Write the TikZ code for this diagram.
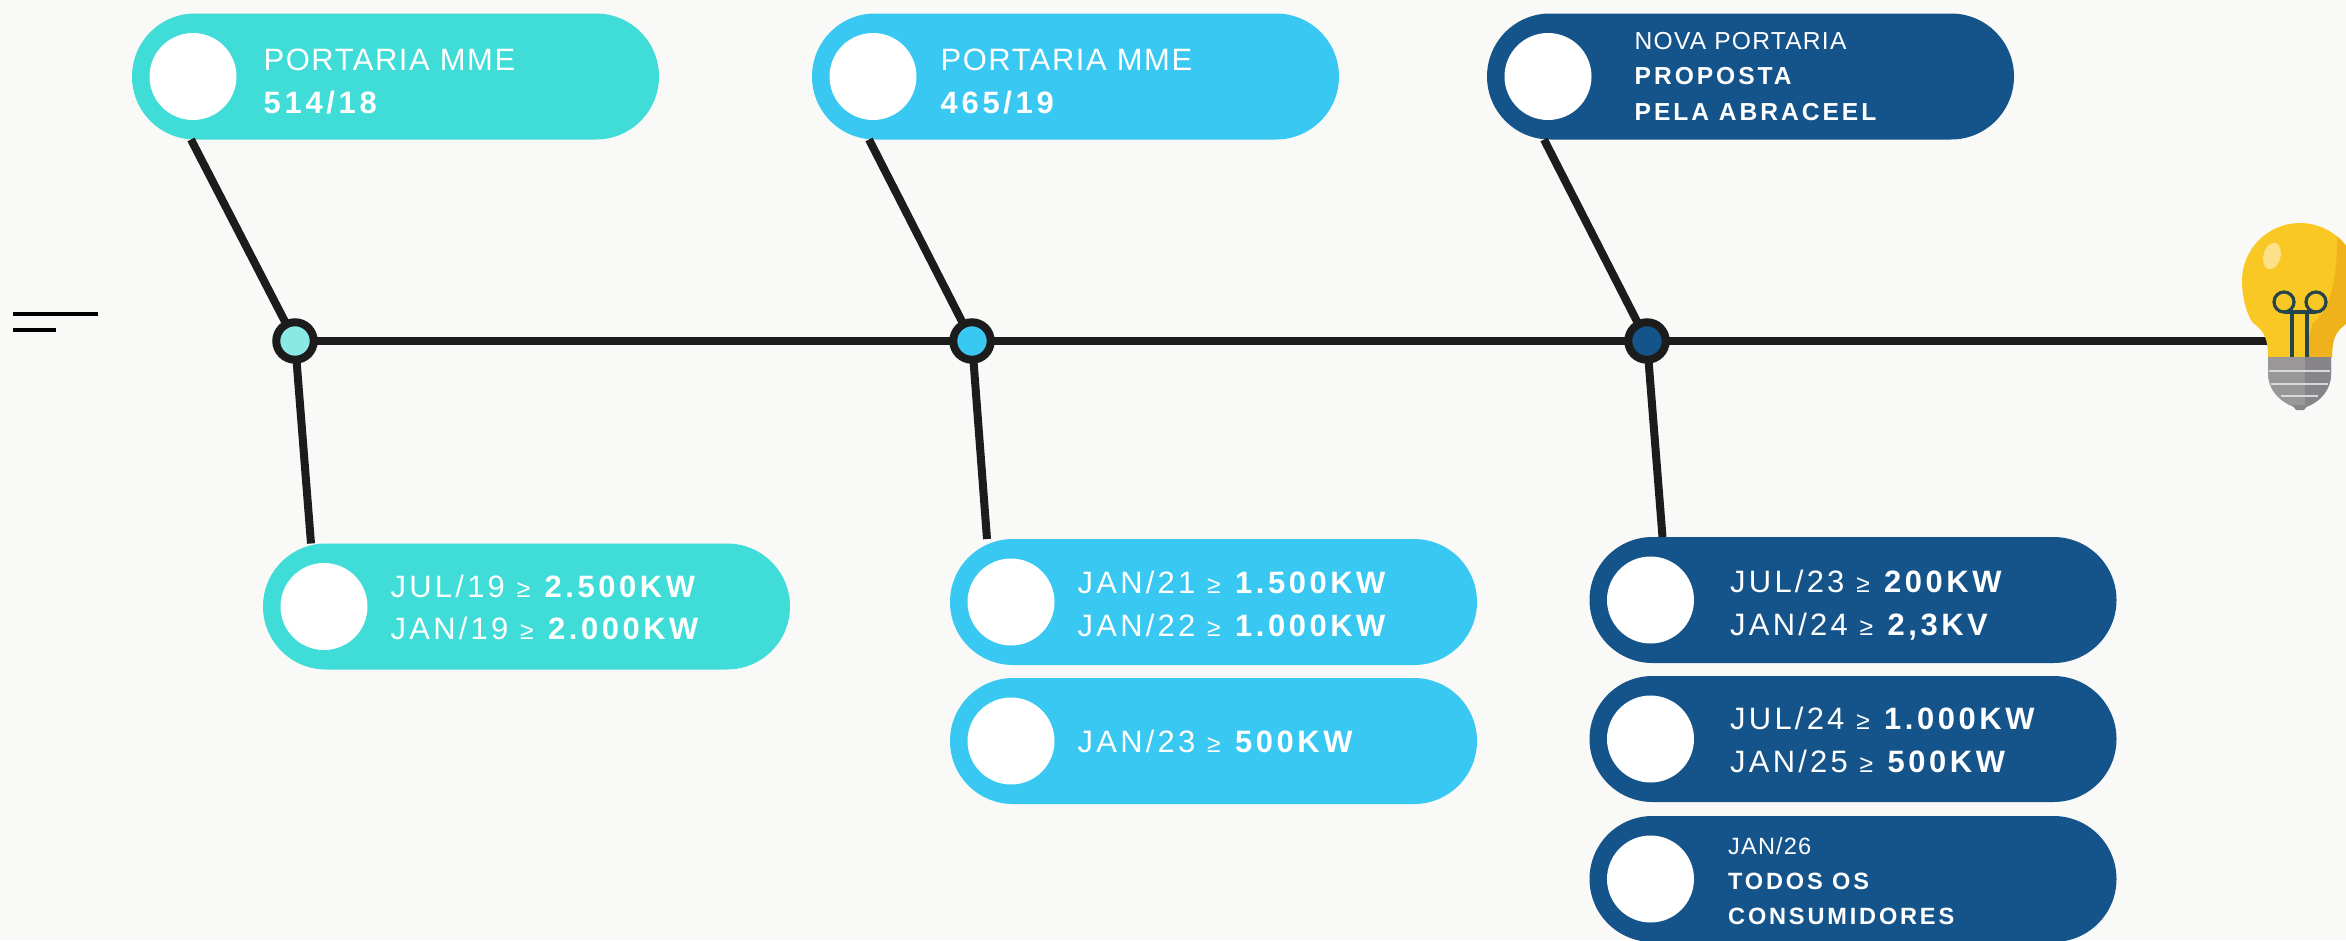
\documentclass[tikz,border=0pt]{standalone}
\usepackage{fontspec}
\setmainfont[LetterSpace=5,BoldFeatures={LetterSpace=12}]{Liberation Sans}
\newfontfamily\datefont[LetterSpace=10.5,BoldFeatures={LetterSpace=11.5}]{Liberation Sans}
\usepackage{xcolor}
\usetikzlibrary{positioning}
\definecolor{paper}{HTML}{F9F9F7}
\definecolor{tealpill}{HTML}{40DCD8}
\definecolor{tealdot}{HTML}{8AE8E5}
\definecolor{skypill}{HTML}{38C8F2}
\definecolor{navypill}{HTML}{15548A}
\definecolor{axisline}{HTML}{1C1C1C}
\definecolor{glass}{HTML}{FAC824}
\definecolor{glassdark}{HTML}{EFB21B}
\definecolor{glasslight}{HTML}{FDE08A}
\definecolor{wire}{HTML}{24444E}
\definecolor{socket}{HTML}{9A9799}
\definecolor{socketdark}{HTML}{87848A}
\newcommand{\gesign}{{\fontsize{7}{7}\selectfont ≥}}
\tikzset{
    pill/.style={fill=#1,rounded corners=.63cm,minimum width=5.27cm,minimum height=1.26cm,inner sep=0pt,outer sep=0pt},
    hole/.style={circle,fill=white,minimum size=.87cm,inner sep=0pt},
    joint/.style={circle,draw=axisline,line width=.08cm,fill=#1,minimum size=.375cm,inner sep=0pt,outer sep=0pt},
    link/.style={draw=axisline,line width=.08cm},
    pilltext/.style={text=white,align=left,anchor=west,inner sep=0pt,font=\fontsize{8.8}{12.2}\selectfont},
    datetext/.style={pilltext,font=\datefont\fontsize{8.8}{12.2}\selectfont},
    smalltext/.style={pilltext,font=\fontsize{7}{10.2}\selectfont}
}
\begin{document}
\begin{tikzpicture}
            \useasboundingbox (0,0) rectangle (23.46,9.40);
            \clip (0,0) rectangle (23.46,9.40);
            \fill[paper] (0,0) rectangle (23.46,9.40);
            % stray marks on the left
            \draw[black,line width=.035cm] (.13,6.26) -- (.98,6.26);
            \draw[black,line width=.035cm] (.13,6.10) -- (.56,6.10);
            % top row
            \node[pill=tealpill] (por514) at (3.955,8.635) {};
            \node[pill=skypill] (por465) at (10.755,8.635) {};
            \node[pill=navypill] (porNova) at (17.505,8.635) {};
            % bottom rows
            \node[pill=tealpill] (jul19) at (5.265,3.335) {};
            \node[pill=skypill] (jan21) at (12.135,3.38) {};
            \node[pill=skypill,below=.13cm of jan21] (jan23) {};
            \node[pill=navypill] (jul23) at (18.53,3.40) {};
            \node[pill=navypill,below=.13cm of jul23] (jul24) {};
            \node[pill=navypill,below=.14cm of jul24] (jan26) {};
            \foreach \p in {por514,por465,porNova,jul19,jan21,jan23,jul23,jul24,jan26}
                \node[hole] (\p dot) at ([xshift=.61cm]\p.west) {};
            % axis
            \node[joint=tealdot] (jointA) at (2.95,5.99) {};
            \node[joint=skypill] (jointB) at (9.72,5.99) {};
            \node[joint=navypill] (jointC) at (16.47,5.99) {};
            \coordinate (bulbneck) at (22.70,5.99);
            \draw[link] (jointA) -- (jointB);
            \draw[link] (jointB) -- (jointC);
            \draw[link] (jointC) -- (bulbneck);
            % branches
            \draw[link] ([xshift=.59cm]por514.south west) -- (jointA);
            \draw[link] ([xshift=.57cm]por465.south west) -- (jointB);
            \draw[link] ([xshift=.57cm]porNova.south west) -- (jointC);
            \draw[link] (jointA) -- ([xshift=.48cm]jul19.north west);
            \draw[link] (jointB) -- ([xshift=.37cm]jan21.north west);
            \draw[link] (jointC) -- ([xshift=.73cm]jul23.north west);
            % texts
            \node[pilltext] (txt514) at ([xshift=1.31cm,yshift=-.05cm]por514.west) {PORTARIA MME\\\textbf{514/18}};
            \node[pilltext] (txt465) at ([xshift=1.28cm,yshift=-.05cm]por465.west) {PORTARIA MME\\\textbf{465/19}};
            \node[smalltext] (txtNova) at ([xshift=1.47cm]porNova.west) {NOVA PORTARIA\\\textbf{PROPOSTA}\\\textbf{PELA ABRACEEL}};
            \node[datetext] (txtJul19) at ([xshift=1.27cm,yshift=-.01cm]jul19.west) {JUL/19 \gesign{} \textbf{2.500KW}\\JAN/19 \gesign{} \textbf{2.000KW}};
            \node[datetext] (txtJan21) at ([xshift=1.27cm,yshift=-.02cm]jan21.west) {JAN/21 \gesign{} \textbf{1.500KW}\\JAN/22 \gesign{} \textbf{1.000KW}};
            \node[datetext] (txtJan23) at ([xshift=1.27cm]jan23.west) {JAN/23 \gesign{} \textbf{500KW}};
            \node[datetext] (txtJul23) at ([xshift=1.40cm,yshift=-.05cm]jul23.west) {JUL/23 \gesign{} \textbf{200KW}\\JAN/24 \gesign{} \textbf{2,3KV}};
            \node[datetext] (txtJul24) at ([xshift=1.40cm,yshift=-.01cm]jul24.west) {JUL/24 \gesign{} \textbf{1.000KW}\\JAN/25 \gesign{} \textbf{500KW}};
            \node[smalltext,font=\fontsize{6.7}{10}\selectfont] (txtJan26) at ([xshift=1.38cm,yshift=-.02cm]jan26.west) {JAN/26\\\textbf{TODOS OS}\\\textbf{CONSUMIDORES}};
            % bulb
            \begin{scope}
                \clip (22.68,5.83) .. controls (22.68,6.05) and (22.62,6.10) .. (22.53,6.17)
                    .. controls (22.46,6.26) and (22.42,6.45) .. (22.42,6.59)
                    arc (180:0:.58)
                    .. controls (23.58,6.45) and (23.54,6.26) .. (23.47,6.17)
                    .. controls (23.38,6.10) and (23.32,6.05) .. (23.32,5.83) -- cycle;
                \fill[glass] (22.3,5.8) rectangle (23.7,7.3);
                \fill[glassdark] (23.37,7.1) .. controls (23.38,6.6) and (23.30,6.3) .. (23.13,6.17)
                    .. controls (23.10,6.1) and (23.08,6.0) .. (23.08,5.8) -- (23.7,5.8) -- (23.7,7.1) -- cycle;
                \fill[glasslight] (22.72,6.84) ellipse[x radius=.085,y radius=.135,rotate=-15];
            \end{scope}
            \draw[wire,line width=.032cm] (22.92,5.80) -- (22.92,6.28);
            \draw[wire,line width=.032cm] (23.07,5.80) -- (23.07,6.28);
            \draw[wire,line width=.032cm] (22.84,6.38) circle (.10);
            \draw[wire,line width=.032cm] (23.16,6.38) circle (.10);
            \draw[wire,line width=.032cm] (22.84,6.28) -- (23.16,6.28);
            \fill[socket] (22.68,5.83) -- (23.31,5.83) -- (23.31,5.66)
                .. controls (23.31,5.50) and (23.20,5.38) .. (23.06,5.33)
                -- (22.94,5.33) .. controls (22.80,5.38) and (22.68,5.50) .. (22.68,5.66) -- cycle;
            \fill[socketdark] (23.05,5.83) -- (23.31,5.83) -- (23.31,5.66)
                .. controls (23.31,5.50) and (23.20,5.38) .. (23.06,5.33) -- (23.05,5.33) -- cycle;
            \fill[socketdark] (22.92,5.35) -- (23.08,5.35) -- (23.04,5.30) -- (22.96,5.30) -- cycle;
            \draw[white!85!black,line width=.018cm] (22.69,5.69) -- (23.30,5.69);
            \draw[white!85!black,line width=.018cm] (22.71,5.56) -- (23.28,5.56);
            \draw[white!85!black,line width=.018cm] (22.81,5.44) -- (23.18,5.44);
        \end{tikzpicture}
\end{document}
